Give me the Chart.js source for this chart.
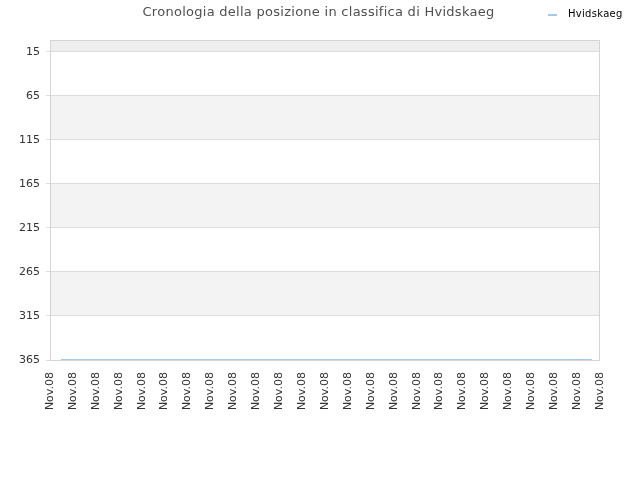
<!DOCTYPE html>
<html>
<head>
<meta charset="utf-8">
<script src="https://cdn.jsdelivr.net/npm/chart.js@4"></script>
<style>
  html, body { margin: 0; padding: 0; background: #fff; }
  #wrap { position: relative; width: 640px; height: 480px; }
  #title { position: absolute; left: 0; top: 4px; width: 637px; text-align: center;
           font: 13px "DejaVu Sans", sans-serif; color: #505050; letter-spacing: 0.27px; }
  #legend { position: absolute; left: 548px; top: 8px; font: 10px "DejaVu Sans", sans-serif; color: #000;
            letter-spacing: 0.3px; }
  #legend i { display: inline-block; width: 9px; height: 2px; background: #a3cbef; vertical-align: middle;
              margin-right: 11px; position: relative; top: 1px; }
</style>
</head>
<body>
<div id="wrap">
  <canvas id="chart" width="640" height="480"></canvas>
  <div id="title">Cronologia della posizione in classifica di Hvidskaeg</div>
  <div id="legend"><i></i>Hvidskaeg</div>
</div>
<script>
// ── data ──────────────────────────────────────────
const tickLabels = ['Nov.08','Nov.08','Nov.08','Nov.08','Nov.08','Nov.08','Nov.08','Nov.08','Nov.08','Nov.08',
                    'Nov.08','Nov.08','Nov.08','Nov.08','Nov.08','Nov.08','Nov.08','Nov.08','Nov.08','Nov.08',
                    'Nov.08','Nov.08','Nov.08','Nov.08','Nov.08'];
const yTicks     = [15, 65, 115, 165, 215, 265, 315, 365];
const seriesX    = [0.48, 23.65];
const seriesRank = [365, 365];

// ── alternating bands + frame ─────────────────────
const bands = {
  id: 'bands',
  beforeDraw(chart) {
    const { ctx, chartArea: a, scales: { y } } = chart;
    ctx.save();
    ctx.fillStyle = '#eeeeee';
    ctx.fillRect(a.left, a.top, a.right - a.left, y.getPixelForValue(yTicks[0]) - a.top);
    ctx.fillStyle = '#f3f3f3';
    for (let i = 1; i < yTicks.length - 1; i += 2) {
      const p1 = y.getPixelForValue(yTicks[i]), p2 = y.getPixelForValue(yTicks[i + 1]);
      ctx.fillRect(a.left, p1, a.right - a.left, p2 - p1);
    }
    ctx.restore();
  },
  afterDraw(chart) {
    const { ctx, chartArea: a } = chart;
    ctx.save();
    ctx.strokeStyle = '#d4d4d4';
    ctx.lineWidth = 1;
    ctx.strokeRect(a.left + 0.5, a.top + 0.5, a.right - a.left - 1, a.bottom - a.top);
    ctx.restore();
  }
};

new Chart(document.getElementById('chart'), {
  type: 'line',
  data: {
    datasets: [{
      label: 'Hvidskaeg',
      data: seriesX.map((x, i) => ({ x, y: seriesRank[i] })),
      borderColor: '#a3cbef', borderWidth: 2, pointRadius: 0, fill: false, tension: 0
    }]
  },
  options: {
    responsive: false, animation: false,
    layout: { padding: { top: 40, right: 40, left: 0, bottom: 0 } },
    plugins: { legend: { display: false }, title: { display: false }, tooltip: { enabled: false } },
    scales: {
      x: {
        type: 'linear', min: 0, max: tickLabels.length - 1,
        grid: { display: false }, border: { display: false },
        afterBuildTicks: s => { s.ticks = tickLabels.map((_, i) => ({ value: i })); },
        afterFit: s => { s.height = 120; },
        ticks: {
          autoSkip: false, minRotation: 90, maxRotation: 90, padding: 4,
          color: '#333', font: { family: 'DejaVu Sans', size: 11 },
          callback: v => tickLabels[v]
        }
      },
      y: {
        reverse: true, min: 1.4, max: 365,
        grid: { color: '#dddddd', drawTicks: true, tickLength: 4 }, border: { display: false },
        afterBuildTicks: s => { s.ticks = yTicks.map(v => ({ value: v })); },
        afterFit: s => { s.width = 50; },
        ticks: { color: '#333', font: { family: 'DejaVu Sans', size: 11 }, padding: 6 }
      }
    }
  },
  plugins: [bands]
});
</script>
</body>
</html>
